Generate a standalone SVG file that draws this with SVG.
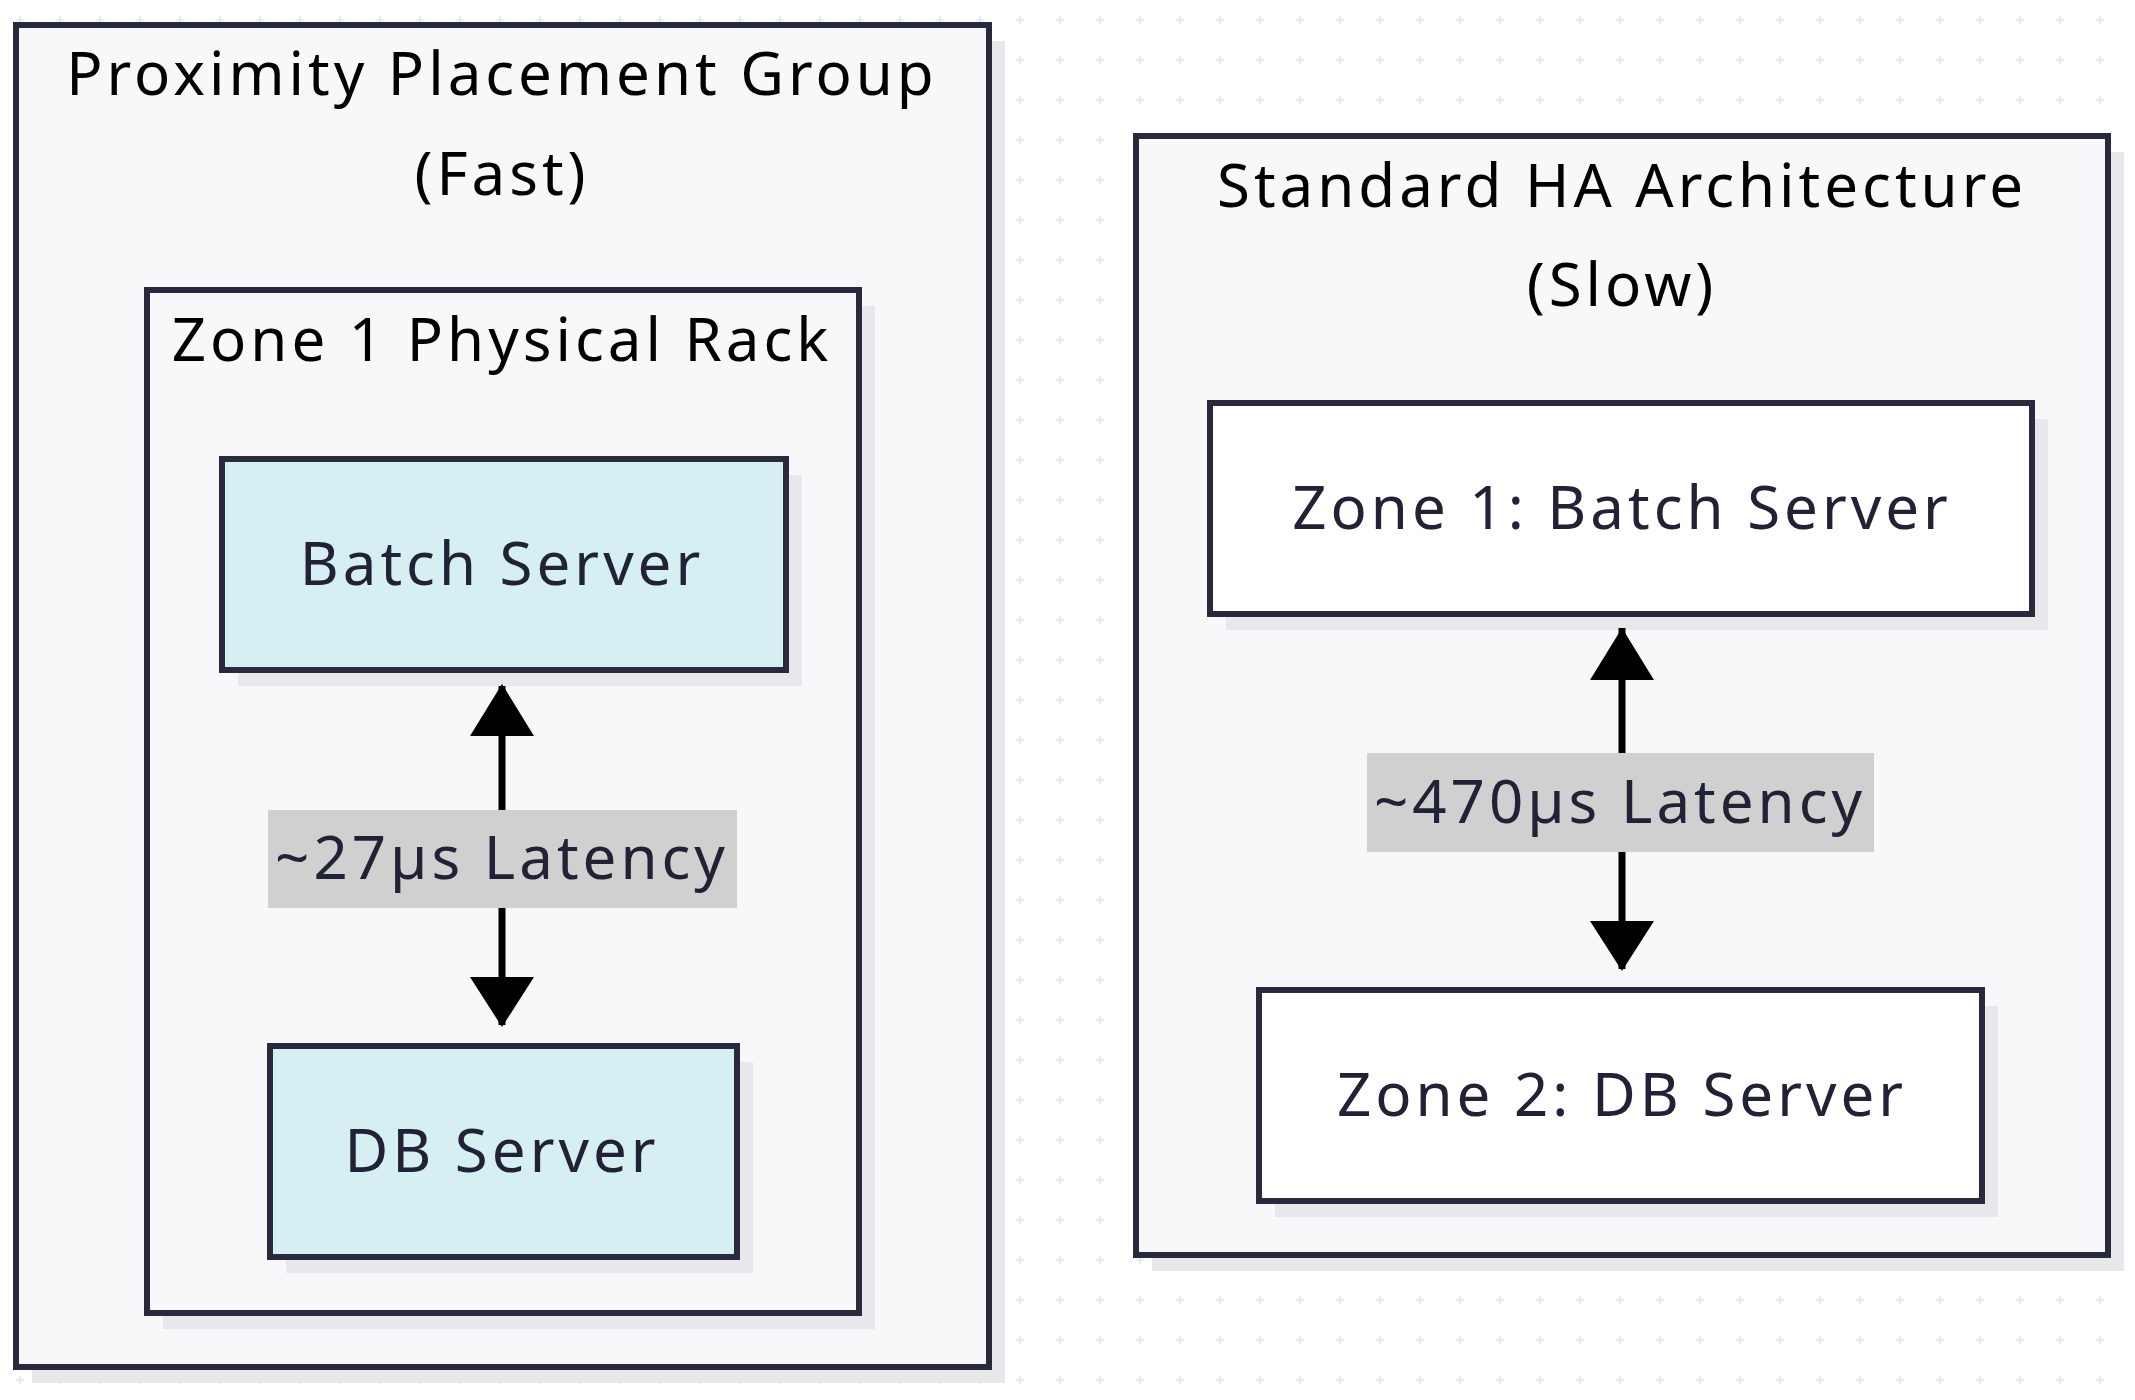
<svg xmlns="http://www.w3.org/2000/svg" width="2135" height="1400" viewBox="0 0 2135 1400">
<defs>
<pattern id="dots" width="40" height="40" patternUnits="userSpaceOnUse">
<path d="M20 16v8M16 20h8" stroke="#dcecec" stroke-width="1.5"/>
</pattern>
<style>
.box{stroke:#2a2a3e;stroke-width:6}
.sh{fill:#e8e8ec}
text{font-family:"Noto Sans","DejaVu Sans",sans-serif;font-size:60px;fill:#222236;text-anchor:middle;letter-spacing:4px}
.t{fill:#000}
.lbl{fill:#d0d0d0}
</style>
</defs>
<rect width="2135" height="1400" fill="#fff"/>
<rect width="2135" height="1400" fill="url(#dots)"/>
<g id="ppg">
<rect class="sh" x="32" y="41" width="973" height="1342"/>
<rect class="box" x="16" y="25" width="973" height="1342" fill="#f8f8fa"/>
<text class="t" x="502" y="95">Proximity Placement Group</text>
<text class="t" x="502" y="195">(Fast)</text>
</g>
<g id="rack">
<rect class="sh" x="163" y="306" width="712" height="1023"/>
<rect class="box" x="147" y="290" width="712" height="1023" fill="#f8f8fa"/>
<text class="t" x="502" y="361">Zone 1 Physical Rack</text>
</g>
<g id="batch1">
<rect class="sh" x="238" y="475" width="564" height="211"/>
<rect class="box" x="222" y="459" width="564" height="211" fill="#d6eff2"/>
<text x="502" y="585">Batch Server</text>
</g>
<g id="db1">
<rect class="sh" x="286" y="1062" width="467" height="211"/>
<rect class="box" x="270" y="1046" width="467" height="211" fill="#d6eff2"/>
<text x="502" y="1172">DB Server</text>
</g>
<g id="ha">
<rect class="sh" x="1152" y="152" width="972" height="1119"/>
<rect class="box" x="1136" y="136" width="972" height="1119" fill="#f8f8fa"/>
<text class="t" x="1622" y="207">Standard HA Architecture</text>
<text class="t" x="1622" y="306">(Slow)</text>
</g>
<g id="batch2">
<rect class="sh" x="1226" y="419" width="822" height="211"/>
<rect class="box" x="1210" y="403" width="822" height="211" fill="#fff"/>
<text x="1622" y="529">Zone 1: Batch Server</text>
</g>
<g id="db2">
<rect class="sh" x="1275" y="1006" width="723" height="211"/>
<rect class="box" x="1259" y="990" width="723" height="211" fill="#fff"/>
<text x="1622" y="1116">Zone 2: DB Server</text>
</g>
<g id="connectors">
<line x1="502" y1="686" x2="502" y2="1025" stroke="#000" stroke-width="7"/>
<path d="M470 736L502 684L534 736z M470 977L502 1027L534 977z" fill="#000"/>
<rect class="lbl" x="268" y="810" width="469" height="98"/>
<text x="502" y="879">~27µs Latency</text>
<line x1="1622" y1="628" x2="1622" y2="969" stroke="#000" stroke-width="7"/>
<path d="M1590 680L1622 628L1654 680z M1590 921L1622 971L1654 921z" fill="#000"/>
<rect class="lbl" x="1367" y="753" width="507" height="99"/>
<text x="1620" y="823">~470µs Latency</text>
</g>
</svg>
